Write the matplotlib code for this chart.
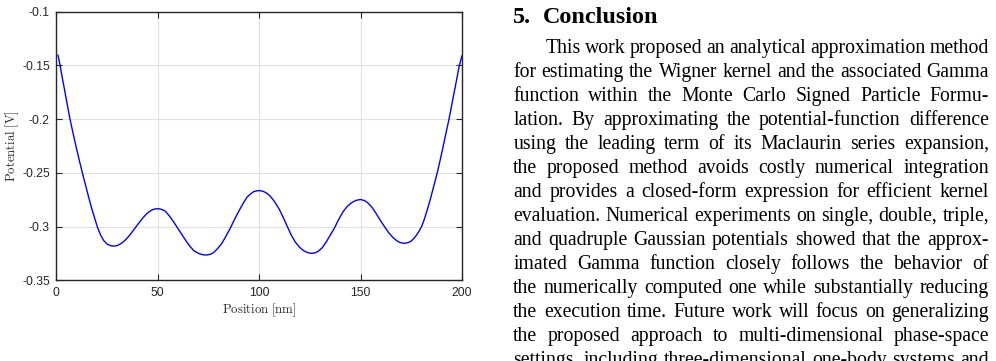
import matplotlib
matplotlib.use("Agg")
import matplotlib.pyplot as plt

# ---------------- data ----------------
position_nm = [1.0, 2.0, 3.0, 4.0, 5.5, 6.9, 8.5, 10.0, 11.5, 13.0, 14.5, 16.0,
               17.5, 19.0, 20.5, 22.0, 23.5, 25.0, 26.5, 28.0, 29.5, 31.0, 32.5,
               34.0, 35.5, 37.0, 38.5, 40.0, 41.5, 43.0, 44.5, 46.0, 47.5, 49.0,
               50.5, 52.0, 53.8, 55.8, 57.9, 59.9, 62.0, 64.0, 66.1, 68.0, 70.2,
               72.0, 74.0, 76.0, 77.6, 79.5, 81.7, 83.7, 85.8, 87.8, 89.9, 92.0,
               94.0, 95.7, 97.3, 98.8, 100.2, 102.0, 103.6, 105.6, 107.7, 110.0,
               111.8, 113.8, 115.9, 117.9, 120.0, 122.0, 124.1, 125.8, 127.5,
               129.1, 131.2, 133.2, 135.2, 137.3, 139.3, 141.4, 143.5, 145.5,
               147.8, 150.0, 152.0, 153.6, 155.7, 157.7, 159.7, 161.8, 163.8,
               165.9, 167.6, 169.2, 170.7, 172.1, 173.5, 174.9, 176.1, 177.3,
               178.7, 180.1, 181.2, 182.3, 183.5, 184.7, 186.2, 187.8, 189.2,
               190.5, 192.0, 193.6, 195.0, 196.3, 197.5, 198.7, 200.0]
potential_V = [-0.1405, -0.1500, -0.1605, -0.1705, -0.1860, -0.2000, -0.2140,
               -0.2265, -0.2385, -0.2500, -0.2610, -0.2720, -0.2825, -0.2920,
               -0.3010, -0.3080, -0.3130, -0.3160, -0.3175, -0.3181, -0.3180,
               -0.3170, -0.3152, -0.3128, -0.3098, -0.3063, -0.3025, -0.2987,
               -0.2950, -0.2915, -0.2884, -0.2860, -0.2843, -0.2835, -0.2834,
               -0.2840, -0.2856, -0.2900, -0.2955, -0.3013, -0.3073, -0.3132,
               -0.3187, -0.3225, -0.3250, -0.3261, -0.3265, -0.3258, -0.3243,
               -0.3207, -0.3156, -0.3090, -0.3017, -0.2938, -0.2862, -0.2790,
               -0.2729, -0.2698, -0.2676, -0.2667, -0.2665, -0.2672, -0.2686,
               -0.2718, -0.2769, -0.2840, -0.2909, -0.2993, -0.3079, -0.3145,
               -0.3193, -0.3225, -0.3243, -0.3249, -0.3245, -0.3231, -0.3196,
               -0.3141, -0.3077, -0.3008, -0.2932, -0.2862, -0.2812, -0.2779,
               -0.2756, -0.2748, -0.2758, -0.2779, -0.2822, -0.2878, -0.2940,
               -0.3000, -0.3055, -0.3100, -0.3128, -0.3146, -0.3154, -0.3155,
               -0.3149, -0.3136, -0.3114, -0.3087, -0.3048, -0.3000, -0.2945,
               -0.2880, -0.2805, -0.2725, -0.2615, -0.2500, -0.2385, -0.2272,
               -0.2140, -0.2000, -0.1862, -0.1735, -0.1618, -0.1500, -0.1410]
x_ticks = [0, 50, 100, 150, 200]
y_ticks = [-0.35, -0.3, -0.25, -0.2, -0.15, -0.1]
y_tick_labels = ["-0.35", "-0.3", "-0.25", "-0.2", "-0.15", "-0.1"]
x_label = r"$\mathrm{Position\ [nm]}$"
y_label = r"$\mathrm{Potential\ [V]}$"

heading_num = "5."
heading_word = "Conclusion"
body_lines = [
    "This work proposed an analytical approximation method",
    "for estimating the Wigner kernel and the associated Gamma",
    "function within the Monte Carlo Signed Particle Formu-",
    "lation. By approximating the potential-function difference",
    "using the leading term of its Maclaurin series expansion,",
    "the proposed method avoids costly numerical integration",
    "and provides a closed-form expression for efficient kernel",
    "evaluation. Numerical experiments on single, double, triple,",
    "and quadruple Gaussian potentials showed that the approx-",
    "imated Gamma function closely follows the behavior of",
    "the numerically computed one while substantially reducing",
    "the execution time. Future work will focus on generalizing",
    "the proposed approach to multi-dimensional phase-space",
    "settings, including three-dimensional one-body systems and",
]

# ---------------- figure ----------------
W, H = 996, 361
plt.rcParams["mathtext.fontset"] = "cm"
fig = plt.figure(figsize=(W / 100, H / 100), dpi=100)
fig.patch.set_facecolor("white")

axc = "#262626"
ax = fig.add_axes([56 / W, 1 - 280.3 / H, (462 - 56) / W, (280.3 - 11.7) / H])
ax.plot(position_nm, potential_V, color="#0000ff", lw=1.0, zorder=3,
        solid_joinstyle="round")
ax.set_xlim(0, 200)
ax.set_ylim(-0.35, -0.1)
ax.set_xticks(x_ticks)
ax.set_xticklabels([str(t) for t in x_ticks])
ax.set_yticks(y_ticks)
ax.set_yticklabels(y_tick_labels)
ax.grid(True, color="#e0e0e0", lw=0.8, zorder=0)
ax.set_axisbelow(True)
for s in ax.spines.values():
    s.set_color(axc)
    s.set_linewidth(1.0)
ax.tick_params(direction="in", length=4, width=0.8, color=axc,
               top=True, right=True, labelsize=8.7, labelcolor=axc)
ax.tick_params(axis="x", pad=5.0)
ax.tick_params(axis="y", pad=4.5)
for lab in ax.get_xticklabels() + ax.get_yticklabels():
    lab.set_fontfamily("Liberation Sans")
ax.set_xlabel(x_label, fontsize=9.2, color=axc)
ax.set_ylabel(y_label, fontsize=9.2, color=axc)
ax.xaxis.set_label_coords(0.5, -0.08)
ax.yaxis.label.set_va("center")
ax.yaxis.set_label_coords(-0.107, 0.5)

# ---------------- text column ----------------
serif = "Liberation Serif"
body_size = 14.2
left_px, right_px = 513.3, 989.0
indent_px = 545.7
base0, pitch = 52.6, 24.0

fig.text(left_px / W, 1 - 22.7 / H, heading_num, fontsize=17.4, fontweight="bold",
         fontfamily=serif, va="baseline", ha="left", color="black")
fig.text(542.7 / W, 1 - 22.7 / H, heading_word, fontsize=17.4, fontweight="bold",
         fontfamily=serif, va="baseline", ha="left", color="black")

renderer = fig.canvas.get_renderer()
for i, line in enumerate(body_lines):
    words = line.split(" ")
    y = 1 - (base0 + i * pitch) / H
    texts = [fig.text(0, y, w, fontsize=body_size, fontfamily=serif,
                      va="baseline", ha="left", color="black") for w in words]
    widths = [t.get_window_extent(renderer).width for t in texts]
    start = indent_px if i == 0 else left_px
    gap = (right_px - start - sum(widths)) / max(len(words) - 1, 1)
    x = start
    for t, wdt in zip(texts, widths):
        t.set_x(x / W)
        x += wdt + gap

fig.savefig("out.png", dpi=100, facecolor="white")
